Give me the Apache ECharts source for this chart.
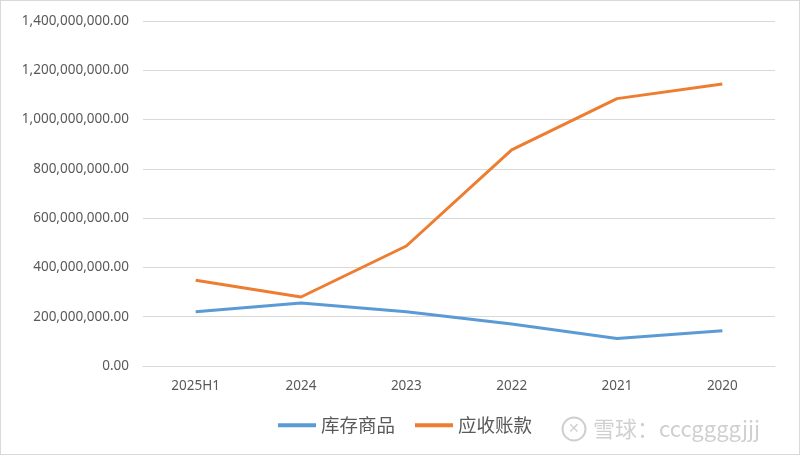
<!DOCTYPE html>
<html><head><meta charset="utf-8">
<script src="https://cdn.jsdelivr.net/npm/echarts@6/dist/echarts.min.js"></script>
<style>html,body{margin:0;padding:0;background:#fff}#c{width:800px;height:455px;box-sizing:border-box;border:1px solid #d9d9d9}</style>
</head><body><div id="c"></div>
<script>
const categories = ['2025H1','2024','2023','2022','2021','2020'];
const inventory = [220000000, 256000000, 220000000, 170000000, 112000000, 143000000];
const receivables = [348000000, 280000000, 487000000, 877000000, 1085000000, 1144000000];
const seriesNames = ['库存商品','应收账款'];
const chart = echarts.init(document.getElementById('c'));
const fmt = v => v.toLocaleString('en-US',{minimumFractionDigits:2,maximumFractionDigits:2});
chart.setOption({
  animation:false,
  grid:{left:142,right:24,top:20,bottom:88,containLabel:false},
  legend:{top:410,left:272,itemWidth:38,itemHeight:4,itemGap:20,icon:'rect',
    textStyle:{fontSize:18.5,color:'#595959',fontFamily:'Noto Sans CJK SC'},
    data:seriesNames},
  xAxis:{type:'category',data:categories,boundaryGap:true,
    axisLine:{lineStyle:{color:'#d9d9d9'}},axisTick:{show:false},
    axisLabel:{color:'#595959',fontSize:13.5,margin:13,fontFamily:'Noto Sans'}},
  yAxis:{type:'value',min:0,max:1400000000,interval:200000000,
    axisLine:{show:false},axisTick:{show:false},
    splitLine:{lineStyle:{color:'#d9d9d9'}},
    axisLabel:{color:'#595959',fontSize:13.5,margin:14,formatter:fmt,fontFamily:'Noto Sans'}},
  series:[
    {name:seriesNames[0],type:'line',data:inventory,showSymbol:false,symbol:'none',
     lineStyle:{width:3,color:'#5B9BD5'},itemStyle:{color:'#5B9BD5'}},
    {name:seriesNames[1],type:'line',data:receivables,showSymbol:false,symbol:'none',
     lineStyle:{width:3,color:'#ED7D31'},itemStyle:{color:'#ED7D31'}}
  ],
  graphic:[
    {type:'circle',shape:{cx:573,cy:428,r:11.5},style:{fill:'none',stroke:'#cfcfcf',lineWidth:2}},
    {type:'text',x:573,y:428,style:{text:'✕',fill:'#cfcfcf',font:'14px sans-serif',align:'center',verticalAlign:'middle'}},
    {type:'text',x:592,y:428,style:{text:'雪球：cccggggjjj',fill:'#d0d0d0',font:'22px "Noto Sans CJK SC"',verticalAlign:'middle',letterSpacing:1}}
  ]
});
</script></body></html>
